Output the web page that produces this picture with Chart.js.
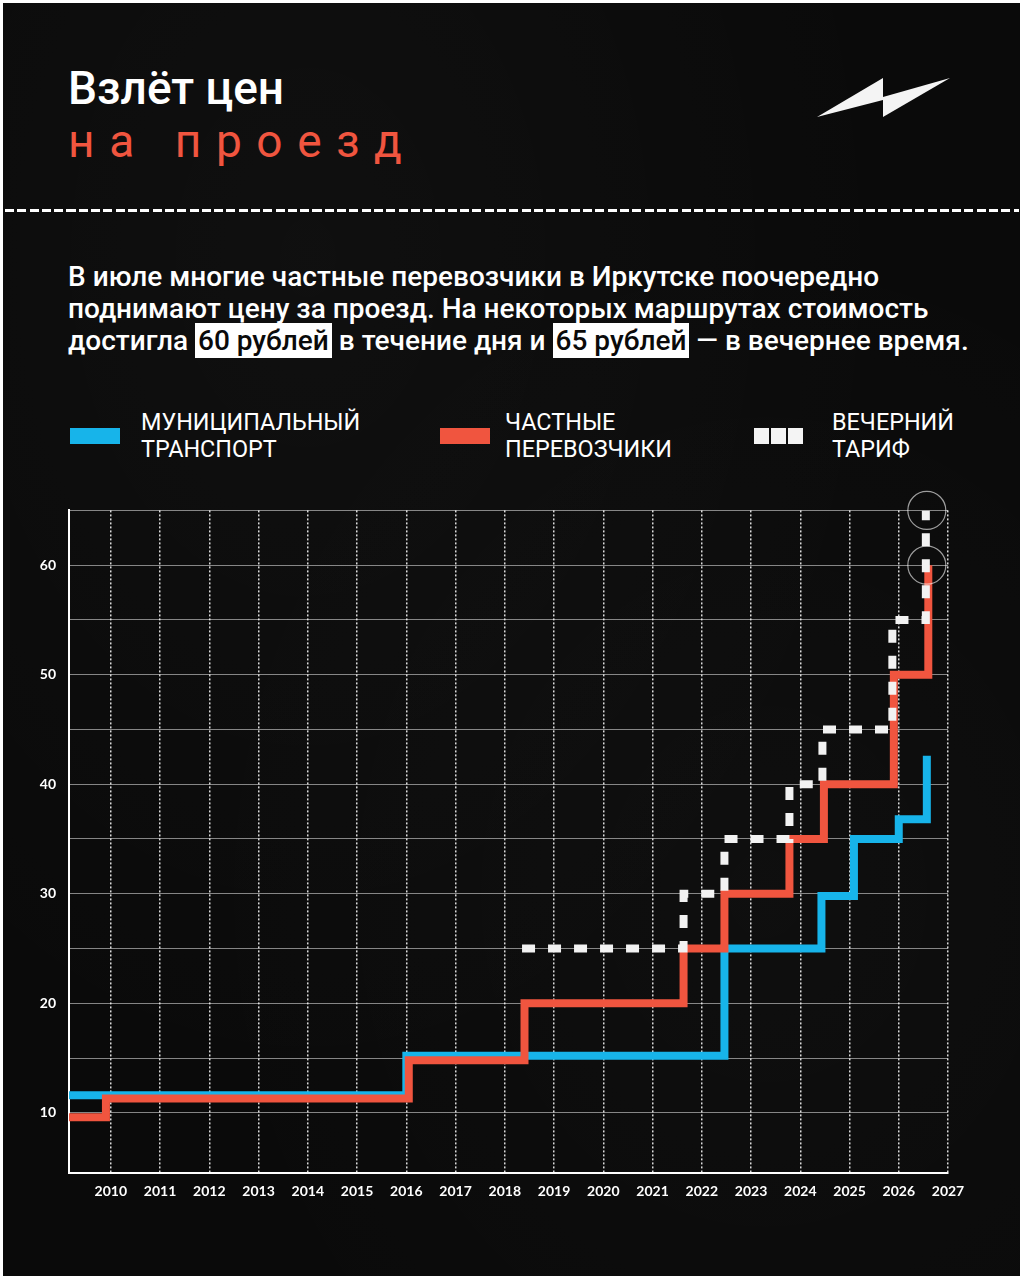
<!DOCTYPE html>
<html lang="ru">
<head>
<meta charset="utf-8">
<script src="https://cdn.jsdelivr.net/npm/chart.js@4/dist/chart.umd.min.js"></script>
<style>
  html, body { margin: 0; padding: 0; }
  body { width: 1024px; height: 1280px; background: #ffffff; position: relative; overflow: hidden; font-family: Roboto, "Noto Sans", sans-serif; }
  .frame {
    position: absolute; left: 3px; top: 3px; width: 1017px; height: 1273px;
    background:
      radial-gradient(ellipse at 30% 20%, rgba(255,255,255,0.025), transparent 60%),
      radial-gradient(ellipse at 75% 70%, rgba(255,255,255,0.02), transparent 55%),
      #0a0a0a;
  }
  .title { position: absolute; left: 68px; top: 65px; margin: 0; font-size: 46px; line-height: 46px; font-weight: 500; color: #ffffff; }
  .subtitle { position: absolute; left: 68px; top: 118px; margin: 0; font-size: 46px; line-height: 46px; font-weight: 400; color: #f0553f; letter-spacing: 14.6px; }
  .logo { position: absolute; left: 0; top: 0; }
  .sep {
    position: absolute; left: 5px; top: 209px; width: 1014px; height: 3px;
    background: repeating-linear-gradient(to right, #ffffff 0 9px, transparent 9px 12.3px);
  }
  .lead { position: absolute; left: 68px; top: 261px; width: 940px; margin: 0; font-size: 28px; line-height: 32px; font-weight: 500; color: #ffffff; white-space: nowrap; }
  .lead .hl { background: #ffffff; color: #0a0a0a; padding: 1px 3px; }
  .legend-swatch { position: absolute; top: 428px; height: 16px; }
  .legend-text { position: absolute; top: 409px; font-size: 23.4px; line-height: 27px; color: #ffffff; font-weight: 400; }
  #wrap { position: absolute; left: 20px; top: 489px; width: 960px; height: 726px; }
</style>
</head>
<body>
<div class="frame"></div>
<h1 class="title">Взлёт цен</h1>
<h2 class="subtitle">на проезд</h2>
<svg class="logo" width="1024" height="140">
  <polygon points="817,117 883,78 883,100" fill="#f4f4f4"/>
  <polygon points="883,97 883,117 950,78" fill="#f4f4f4"/>
</svg>
<div class="sep"></div>
<p class="lead">В июле многие частные перевозчики в Иркутске поочередно<br>поднимают цену за проезд. На некоторых маршрутах стоимость<br>достигла <span class="hl">60 рублей</span> в течение дня и <span class="hl">65 рублей</span> — в вечернее время.</p>

<div class="legend-swatch" style="left:70px;width:50px;background:#17b4ea"></div>
<div class="legend-text" style="left:141px">МУНИЦИПАЛЬНЫЙ<br>ТРАНСПОРТ</div>
<div class="legend-swatch" style="left:440px;width:50px;background:#f0553f"></div>
<div class="legend-text" style="left:505px">ЧАСТНЫЕ<br>ПЕРЕВОЗЧИКИ</div>
<div class="legend-swatch" style="left:754px;width:15px;background:#f4f4f4"></div>
<div class="legend-swatch" style="left:771px;width:15px;background:#f4f4f4"></div>
<div class="legend-swatch" style="left:788px;width:15px;background:#f4f4f4"></div>
<div class="legend-text" style="left:832px">ВЕЧЕРНИЙ<br>ТАРИФ</div>

<div id="wrap"><canvas id="chart"></canvas></div>

<script>
// years on the x axis, y grid steps and which of them carry a label
const years = [2010, 2011, 2012, 2013, 2014, 2015, 2016, 2017, 2018, 2019, 2020, 2021, 2022, 2023, 2024, 2025, 2026, 2027];
const yGrid = [10, 15, 20, 25, 30, 35, 40, 45, 50, 55, 60, 65];
const yLabels = [10, 20, 30, 40, 50, 60];

// municipal transport: moment of change (year) and fare, rubles
const municipalX = [2009.15, 2016.0, 2022.46, 2024.43, 2025.09, 2026.0, 2026.57];
const municipalY = [11.6, 15.2, 25, 29.8, 35, 36.8, 42.6];

// private carriers
const privateX = [2009.15, 2009.9, 2016.05, 2018.4, 2021.63, 2022.46, 2023.78, 2024.48, 2025.9, 2026.6];
const privateY = [9.6, 11.3, 14.8, 20, 25, 30, 35, 40, 50, 60];

// evening tariff
const eveningX = [2018.35, 2021.63, 2022.46, 2023.78, 2024.45, 2025.87, 2026.55];
const eveningY = [25, 30, 35, 40, 45, 55, 65];

// circled top values
const markX = [2026.57, 2026.57];
const markY = [65, 60];

const toPoints = (xs, ys) => xs.map((x, i) => ({ x: x, y: ys[i] }));

const BLUE = '#17b4ea';
const RED = '#f0553f';
const WHITE = '#f2f2f2';

new Chart(document.getElementById('chart'), {
    type: 'line',
    data: {
        datasets: [{
            label: 'Вечерний тариф',
            data: toPoints(eveningX, eveningY),
            borderColor: WHITE,
            borderWidth: 8,
            borderDash: [13, 13],
            borderCapStyle: 'butt',
            stepped: true,
            pointRadius: 0,
            order: 1,
        }, {
            label: 'Частные перевозчики',
            data: toPoints(privateX, privateY),
            borderColor: RED,
            borderWidth: 8,
            stepped: true,
            pointRadius: 0,
            order: 2,
        }, {
            label: 'Муниципальный транспорт',
            data: toPoints(municipalX, municipalY),
            borderColor: BLUE,
            borderWidth: 8,
            stepped: true,
            pointRadius: 0,
            order: 3,
        }, {
            type: 'scatter',
            label: 'marks',
            data: toPoints(markX, markY),
            pointRadius: 19,
            pointBackgroundColor: 'rgba(0,0,0,0)',
            pointBorderColor: 'rgba(255,255,255,0.6)',
            pointBorderWidth: 1.2,
            clip: false,
            order: 0,
        }]
    },
    options: {
        responsive: true,
        maintainAspectRatio: false,
        animation: false,
        layout: {
            padding: { top: 15, right: 32, left: 0, bottom: 0 }
        },
        plugins: {
            legend: { display: false },
            tooltip: { enabled: false }
        },
        scales: {
            x: {
                type: 'linear',
                min: 2009.15,
                max: 2027,
                afterBuildTicks: (scale) => { scale.ticks = years.map(v => ({ value: v })); },
                afterFit: (scale) => { scale.height = 42; },
                grid: {
                    color: 'rgba(255,255,255,0.85)',
                    lineWidth: 1.5,
                    drawTicks: false,
                },
                border: {
                    display: true,
                    color: '#ffffff',
                    width: 2,
                    dash: [2, 2],
                },
                ticks: {
                    color: '#ffffff',
                    padding: 10,
                    maxRotation: 0,
                    autoSkip: false,
                    font: { family: 'Lato', size: 14, weight: '700' },
                    callback: (v) => String(v),
                }
            },
            y: {
                min: 4.5,
                max: 65,
                afterBuildTicks: (scale) => { scale.ticks = yGrid.map(v => ({ value: v })); },
                afterFit: (scale) => { scale.width = 49; },
                grid: {
                    color: 'rgba(255,255,255,0.5)',
                    lineWidth: 1,
                    drawTicks: false,
                },
                border: {
                    display: true,
                    color: '#ffffff',
                    width: 2,
                },
                ticks: {
                    color: '#ffffff',
                    padding: 13,
                    autoSkip: false,
                    font: { family: 'Lato', size: 14, weight: '700' },
                    callback: (v) => yLabels.includes(v) ? String(v) : '',
                }
            }
        }
    }
});
</script>
</body>
</html>
